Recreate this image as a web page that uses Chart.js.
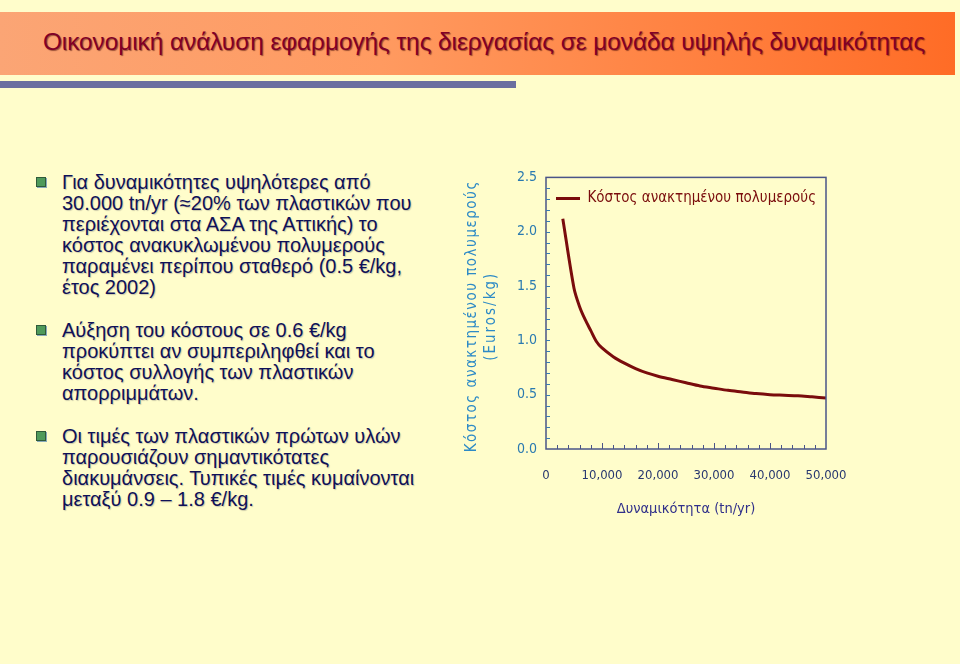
<!DOCTYPE html>
<html>
<head>
<meta charset="utf-8">
<script src="https://cdn.jsdelivr.net/npm/chart.js@4.4.0/dist/chart.umd.min.js"></script>
<style>
  html, body { margin: 0; padding: 0; }
  body { width: 960px; height: 664px; background: #fffdcb; position: relative; overflow: hidden;
         font-family: "Liberation Sans", Arial, sans-serif; }
  .band { position: absolute; left: 0; top: 12px; width: 955px; height: 63px;
          background: linear-gradient(to right, #fba575, #ff9a60 40%, #ff6c26); }
  .band h1 { margin: 0; position: absolute; left: 0; width: 968px; top: 16px; text-align: center;
             font-size: 24.5px; font-weight: normal; color: #800026; letter-spacing: -0.1px;
             text-shadow: 1px 1px 1px rgba(60,0,0,0.5); }
  .bar { position: absolute; left: 0; top: 81px; width: 516px; height: 7px; background: #6b6f9f; }
  .bullets { position: absolute; left: 62px; top: 172px; width: 400px; color: #0f1158;
             font-size: 20px; line-height: 21px; text-shadow: 1px 1px 1px rgba(0,0,40,0.2); }
  .bullets p { margin: 0 0 22px 0; position: relative; white-space: nowrap; }
  .bullets p::before { content: ""; position: absolute; left: -26px; top: 5px; width: 8px; height: 8px;
                       background: #4f9a5a; border: 1px solid #2f5a3a; box-shadow: 1px 1px 0 #8ab;}
  #wrap { position: absolute; left: 455px; top: 160px; width: 420px; height: 380px; }
</style>
</head>
<body>
<div class="band"><h1>Οικονομική ανάλυση εφαρμογής της διεργασίας σε μονάδα υψηλής δυναμικότητας</h1></div>
<div class="bar"></div>
<div class="bullets">
  <p>Για δυναμικότητες υψηλότερες από<br>30.000 tn/yr (≈20% των πλαστικών που<br>περιέχονται στα ΑΣΑ της Αττικής) το<br>κόστος ανακυκλωμένου πολυμερούς<br>παραμένει περίπου σταθερό (0.5 €/kg,<br>έτος 2002)</p>
  <p>Αύξηση του κόστους σε 0.6 €/kg<br>προκύπτει αν συμπεριληφθεί και το<br>κόστος συλλογής των πλαστικών<br>απορριμμάτων.</p>
  <p>Οι τιμές των πλαστικών πρώτων υλών<br>παρουσιάζουν σημαντικότατες<br>διακυμάνσεις. Τυπικές τιμές κυμαίνονται<br>μεταξύ 0.9 – 1.8 €/kg.</p>
</div>
<div id="wrap"><canvas id="chart" width="420" height="380"></canvas></div>
<script>
// capacity (tn/yr) and cost of recovered polymer (Euros/kg)
const capacity = [3000, 5000, 6000, 7000, 8000, 9000, 10000, 12000, 14000, 16000, 18000, 20000,
                  22500, 25000, 27500, 30000, 32500, 35000, 37500, 40000, 42500, 45000, 47500, 50000];
const cost = [2.12, 1.48, 1.31, 1.19, 1.09, 0.99, 0.93, 0.85, 0.79, 0.74, 0.70, 0.67,
              0.64, 0.61, 0.58, 0.56, 0.54, 0.525, 0.51, 0.50, 0.495, 0.49, 0.48, 0.47];
const seriesName = 'Κόστος ανακτημένου πολυμερούς';
const yTitle = ['Κόστος ανακτημένου πολυμερούς', '(Euros/kg)'];
const xTitle = 'Δυναμικότητα (tn/yr)';

const narrow = '"Liberation Sans Narrow", "DejaVu Sans Condensed", sans-serif';

// small inward ticks + frame + spaced y title
const frame = {
    id: 'frame',
    afterDraw(chart){
        const ctx = chart.ctx, a = chart.chartArea;
        const xs = chart.scales.x, ys = chart.scales.y;
        ctx.save();
        ctx.strokeStyle = '#4a5488';
        ctx.lineWidth = 1.5;
        ctx.strokeRect(a.left, a.top, a.right - a.left, a.bottom - a.top);
        ctx.lineWidth = 1;
        ctx.beginPath();
        for(let v = 2000; v < 50000; v += 2000){
            const px = Math.round(xs.getPixelForValue(v)) + 0.5;
            ctx.moveTo(px, a.bottom);
            ctx.lineTo(px, a.bottom - (v % 10000 === 0 ? 6 : 4));
        }
        ctx.stroke();
        ctx.strokeStyle = '#3a7ab0';
        ctx.beginPath();
        for(let v = 0.1; v < 2.49; v += 0.1){
            const py = Math.round(ys.getPixelForValue(v)) + 0.5;
            ctx.moveTo(a.left, py);
            ctx.lineTo(a.left + 4, py);
        }
        ctx.stroke();

        ctx.translate(17, (a.top + a.bottom) / 2 + 3);
        ctx.rotate(-Math.PI / 2);
        ctx.fillStyle = '#2d8ac6';
        ctx.textAlign = 'center';
        ctx.textBaseline = 'middle';
        ctx.font = '15px ' + narrow;
        ctx.letterSpacing = '1.5px';
        ctx.fillText(yTitle[0], 0, 0);
        ctx.letterSpacing = '2px';
        ctx.fillText(yTitle[1], 0, 19);
        ctx.restore();
    }
};

new Chart(document.getElementById('chart'), {
    type: 'line',
    data: {
        datasets: [{
            label: seriesName,
            data: capacity.map((c, i) => ({x: c, y: cost[i]})),
            borderColor: '#7a0c0c',
            backgroundColor: '#7a0c0c',
            borderWidth: 3,
            pointRadius: 0,
            tension: 0.3
        }]
    },
    options: {
        responsive: false,
        animation: false,
        layout: {padding: {left: 0, top: 15, right: 49, bottom: 0}},
        plugins: {
            legend: {
                position: 'chartArea',
                align: 'start',
                title: {display: true, text: '', font: {size: 10}, padding: {top: 9, bottom: 0}},
                labels: {
                    usePointStyle: true,
                    pointStyle: 'line',
                    pointStyleWidth: 24,
                    color: '#7a0c0c',
                    font: {family: narrow, size: 15},
                    padding: 10
                }
            },
            tooltip: {enabled: false}
        },
        scales: {
            x: {
                type: 'linear',
                min: 0, max: 50000,
                afterFit(s){ s.height = 91; },
                grid: {display: false, drawTicks: false},
                border: {display: false},
                ticks: {stepSize: 10000, padding: 19, color: '#283870', font: {family: narrow, size: 13}},
                title: {display: true, text: xTitle, color: '#30308a',
                        font: {family: narrow, size: 14.5}, padding: {top: 0, bottom: 22}}
            },
            y: {
                min: 0, max: 2.5,
                afterFit(s){ s.width = 91; },
                grid: {display: false, drawTicks: false},
                border: {display: false},
                ticks: {stepSize: 0.5, padding: 9, color: '#2a7ab0', font: {family: narrow, size: 14},
                        callback: v => v.toFixed(1)}
            }
        }
    },
    plugins: [frame]
});
</script>
</body>
</html>
